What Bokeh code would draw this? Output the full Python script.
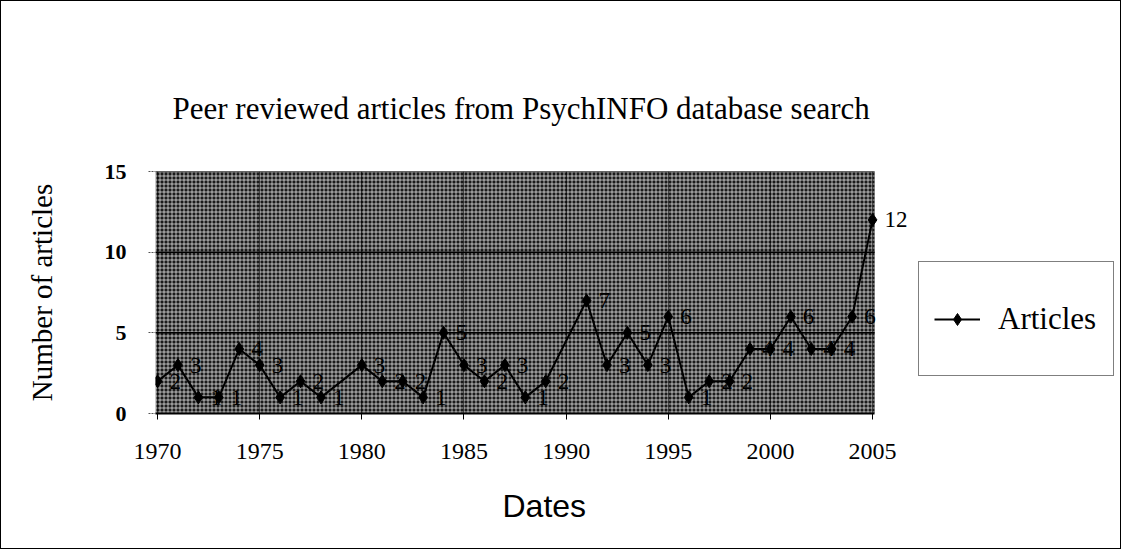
from bokeh.plotting import figure
from bokeh.models import (ColumnDataSource, FixedTicker, Range1d, BoxAnnotation,
                          Legend, LegendItem, LabelSet, Title)
from bokeh.embed import file_html
from bokeh.resources import INLINE

# ---- data ----
years = [1970, 1971, 1972, 1973, 1974, 1975, 1976, 1977, 1978, 1980,
         1981, 1982, 1983, 1984, 1985, 1986, 1987, 1988, 1989, 1991,
         1992, 1993, 1994, 1995, 1996, 1997, 1998, 1999, 2000, 2001,
         2002, 2003, 2004, 2005]
articles = [2, 3, 1, 1, 4, 3, 1, 2, 1, 3,
            2, 2, 1, 5, 3, 2, 3, 1, 2, 7,
            3, 5, 3, 6, 1, 2, 2, 4, 4, 6,
            4, 4, 6, 12]
x_ticks = [1970, 1975, 1980, 1985, 1990, 1995, 2000, 2005]
y_ticks = [0, 5, 10, 15]

src = ColumnDataSource(dict(x=years, y=articles, lbl=[str(v) for v in articles]))

SERIF = "Liberation Serif"
SANS = "Liberation Sans"

PAD = 0.1           # plot area padding (years) around first/last category
EXTRA = 11.89       # invisible room on the right (data label + legend)
x_lo = x_ticks[0] - PAD
x_hi = x_ticks[-1] + PAD

p = figure(width=1121, height=549, output_backend="svg", toolbar_location=None,
           x_range=Range1d(x_lo, x_ticks[-1] + EXTRA),
           y_range=Range1d(y_ticks[0], y_ticks[-1]),
           min_border_left=154, min_border_right=7, min_border_top=170,
           min_border_bottom=137,
           title="Peer reviewed articles from PsychINFO database search")
p.styles = {"border": "1px solid #000"}
p.outline_line_color = None
p.background_fill_color = "#ffffff"

p.title.align = "left"
p.title.offset = 17
p.title.standoff = 92
p.title.text_font = SERIF
p.title.text_font_size = "31px"
p.title.text_font_style = "normal"
p.title.text_color = "#000000"

# plot-area texture (only over the category span)
tex = BoxAnnotation(left=x_lo, right=x_hi,
                    fill_color="#1a1a1a", fill_alpha=1.0, hatch_pattern="cross",
                    hatch_color="#ffffff", hatch_scale=4, hatch_weight=1,
                    hatch_alpha=0.66, line_color=None, level="image")
p.add_layout(tex)

# axes
p.xaxis.ticker = FixedTicker(ticks=x_ticks)
p.yaxis.ticker = FixedTicker(ticks=y_ticks)
p.xaxis.bounds = (x_lo, x_hi)
p.xaxis.minor_tick_line_color = None
p.yaxis.minor_tick_line_color = None
p.xaxis.axis_line_color = "#000000"
p.xaxis.axis_line_width = 2
p.xaxis.major_tick_in = 0
p.xaxis.major_tick_out = 6
p.xaxis.major_tick_line_color = "#000000"
p.xaxis.major_label_standoff = 24
p.xaxis.major_label_text_font = SERIF
p.xaxis.major_label_text_font_size = "24px"
p.xaxis.major_label_text_color = "#000000"

p.yaxis.axis_line_color = None
p.yaxis.major_tick_in = 0
p.yaxis.major_tick_out = 7
p.yaxis.major_tick_line_color = "#555555"
p.yaxis.major_tick_line_dash = "2 1"
p.yaxis.major_label_standoff = 22
p.yaxis.major_label_text_font = SERIF
p.yaxis.major_label_text_font_size = "22px"
p.yaxis.major_label_text_font_style = "bold"
p.yaxis.major_label_text_color = "#000000"
p.yaxis.axis_label = "Number of articles"
p.yaxis.axis_label_text_font = SERIF
p.yaxis.axis_label_text_font_size = "29px"
p.yaxis.axis_label_text_font_style = "normal"
p.yaxis.axis_label_text_color = "#000000"
p.yaxis.axis_label_standoff = 44

dates = Title(text="Dates", align="left", offset=347, standoff=49,
              text_font=SANS, text_font_size="32px", text_font_style="normal",
              text_color="#000000")
p.add_layout(dates, "below")

# grid: horizontal lines only across the category span
p.ygrid.grid_line_color = None
p.segment(x0=[x_lo] * (len(y_ticks) - 1), x1=[x_hi] * (len(y_ticks) - 1),
          y0=y_ticks[1:], y1=y_ticks[1:], line_color="#000000", line_width=1.5,
          level="underlay")
p.xgrid.grid_line_color = "#000000"
p.xgrid.grid_line_alpha = 0.55
p.xgrid.grid_line_width = 1

# series
ln = p.line("x", "y", source=src, line_color="#000000", line_width=2)
mk = p.scatter("x", "y", source=src, marker="diamond", size=13,
               fill_color="#000000", line_color="#000000")

labels = LabelSet(x="x", y="y", text="lbl", source=src, x_offset=12, y_offset=0,
                  text_align="left", text_baseline="middle",
                  text_font=SERIF, text_font_size="23px", text_color="#000000")
p.add_layout(labels)

legend = Legend(items=[LegendItem(label="Articles", renderers=[ln, mk])],
                location=(763, 37), orientation="vertical",
                padding=15, spacing=0, margin=0,
                glyph_width=46, glyph_height=30, label_standoff=18,
                label_width=100, label_height=83,
                label_text_font=SERIF, label_text_font_size="31px",
                label_text_color="#000000",
                border_line_color="#000000", border_line_width=1,
                background_fill_color="#ffffff", background_fill_alpha=1.0)
p.add_layout(legend)

open("out.html", "w").write(file_html(p, INLINE))
